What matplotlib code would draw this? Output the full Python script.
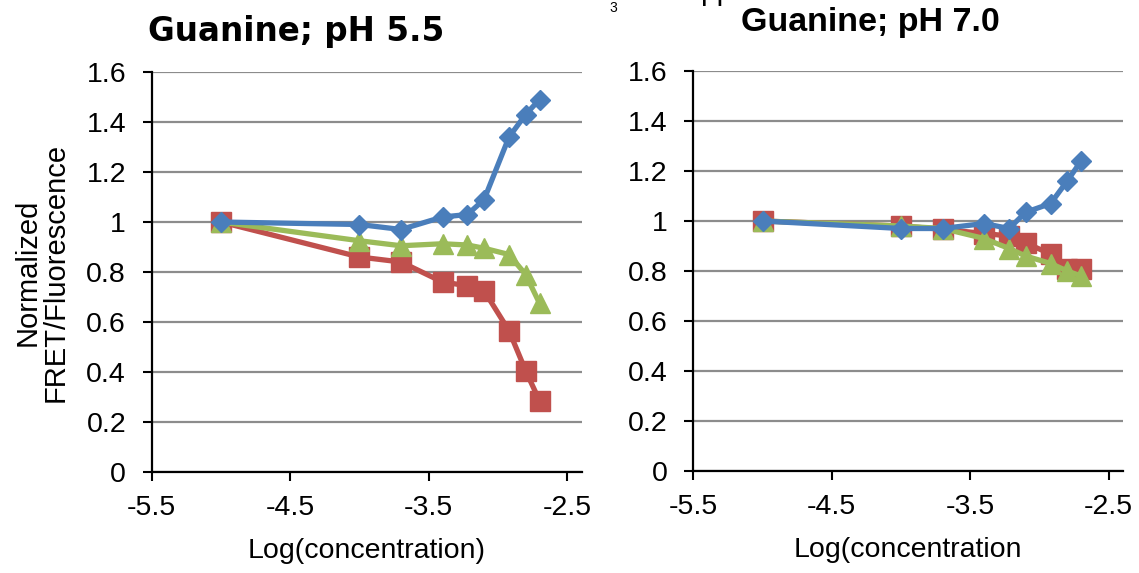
import matplotlib
matplotlib.use("Agg")
import matplotlib.pyplot as plt

# log10 of guanine concentration (M)
log_conc = [-5.0, -4.0, -3.70, -3.40, -3.22, -3.10, -2.92, -2.80, -2.70]

# pH 5.5
ph55_blue = [1.00, 0.99, 0.97, 1.02, 1.03, 1.09, 1.34, 1.43, 1.49]
ph55_red = [1.00, 0.86, 0.84, 0.76, 0.745, 0.725, 0.565, 0.405, 0.285]
ph55_green = [1.00, 0.925, 0.905, 0.913, 0.908, 0.895, 0.87, 0.79, 0.675]

# pH 7.0
ph70_blue = [1.00, 0.97, 0.97, 0.99, 0.97, 1.035, 1.07, 1.16, 1.24]
ph70_red = [1.00, 0.98, 0.967, 0.95, 0.94, 0.912, 0.868, 0.81, 0.81]
ph70_green = [1.00, 0.98, 0.97, 0.93, 0.89, 0.86, 0.83, 0.80, 0.78]

titles = ["Guanine; pH 5.5", "Guanine; pH 7.0"]
yticks = [0, 0.2, 0.4, 0.6, 0.8, 1.0, 1.2, 1.4, 1.6]
ytick_labels = ["0", "0.2", "0.4", "0.6", "0.8", "1", "1.2", "1.4", "1.6"]
xticks = [-5.5, -4.5, -3.5, -2.5]
xtick_labels = ["-5.5", "-4.5", "-3.5", "-2.5"]
xlabels = ["Log(concentration)", "Log(concentration"]

BLUE = "#4A7EBB"
RED = "#C0504D"
GREEN = "#9BBB59"
ARIAL = "Liberation Sans"

W, H = 1139, 573
fig = plt.figure(figsize=(W / 100, H / 100), dpi=100)
fig.patch.set_facecolor("white")

ax_boxes = [
    [151.7 / W, (H - 472) / H, 430.3 / W, 400 / H],
    [693.3 / W, (H - 471) / H, 430.0 / W, 400 / H],
]
series = [
    (ph55_blue, ph55_red, ph55_green),
    (ph70_blue, ph70_red, ph70_green),
]

for i, (box, (b, r, g)) in enumerate(zip(ax_boxes, series)):
    ax = fig.add_axes(box)
    ax.plot(log_conc, r, color=RED, lw=3.8, marker="s", ms=14, mec=RED, zorder=3)
    ax.plot(log_conc, g, color=GREEN, lw=3.8, marker="^", ms=14, mec=GREEN, zorder=4)
    ax.plot(log_conc, b, color=BLUE, lw=3.8, marker="D", ms=10.5, mec=BLUE, zorder=5)

    ax.set_xlim(-5.5, -5.5 + box[2] * W / 138.5)
    ax.set_ylim(0, 1.6)
    ax.set_yticks(yticks)
    ax.set_yticklabels(ytick_labels, fontsize=20.5, family=ARIAL)
    ax.set_xticks(xticks)
    ax.set_xticklabels(xtick_labels, fontsize=20.5, family=ARIAL)
    ax.tick_params(axis="y", direction="out", length=6.5, width=1.5, pad=12)
    ax.tick_params(axis="x", direction="out", length=6.5, width=1.5, pad=10)
    ax.yaxis.grid(True, color="#8C8C8C", lw=1.6)
    ax.set_axisbelow(True)
    for s in ("top", "right"):
        ax.spines[s].set_visible(False)
    for s in ("left", "bottom"):
        ax.spines[s].set_linewidth(1.6)
        ax.spines[s].set_color("black")
    ax.set_xlabel(xlabels[i], fontsize=20.5, family=ARIAL, labelpad=12)

# Panel titles
fig.text(296 / W, 1 - 31 / H, titles[0], ha="center", va="center",
         fontsize=23.5, fontweight="bold", family="DejaVu Sans")
fig.text(870 / W, 1 - 22 / H, titles[1], ha="center", va="center",
         fontsize=24.5, fontweight="bold", family=ARIAL)

# Shared y-axis label
fig.text(42 / W, 1 - 272 / H, "Normalized\nFRET/Fluorescence", rotation=90,
         ha="center", va="center", fontsize=21, family=ARIAL, linespacing=1.0)

# Remnants of a header line at the top edge
fig.text(613 / W, 1 - 1 / H, "3", ha="center", va="top", fontsize=10, family=ARIAL)
fig.text(700 / W, 1.0, "pp", ha="left", va="baseline", fontsize=21.5, family=ARIAL)

fig.savefig("out.png", dpi=100, facecolor="white")
